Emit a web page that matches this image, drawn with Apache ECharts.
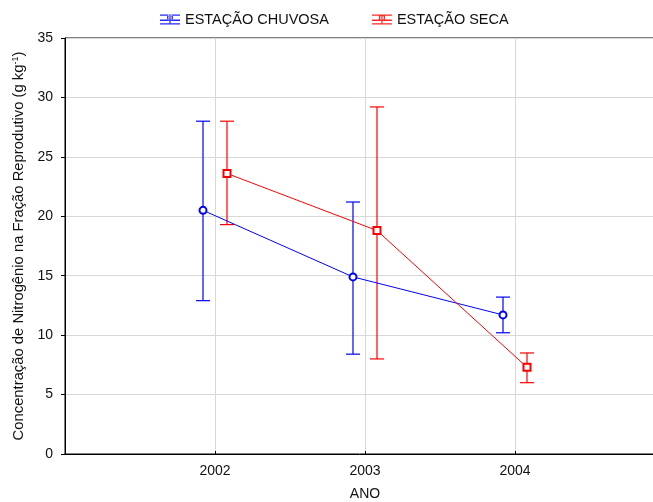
<!DOCTYPE html>
<html>
<head>
<meta charset="utf-8">
<script src="https://cdn.jsdelivr.net/npm/echarts@6/dist/echarts.min.js"></script>
<style>
  html, body { margin: 0; padding: 0; background: #fff; }
  #chart { width: 653px; height: 502px; }
</style>
</head>
<body>
<div id="chart"></div>
<script>
// Nitrogen concentration in the reproductive fraction, by year and season
const years = [2002, 2003, 2004];

const chuvosaMean = [20.5, 14.9, 11.7];
const chuvosaLow  = [12.9, 8.4, 10.2];
const chuvosaHigh = [28.0, 21.2, 13.2];

const secaMean = [23.6, 18.8, 7.3];
const secaLow  = [19.3, 8.0, 6.0];
const secaHigh = [28.0, 29.2, 8.5];

const yTicks = [0, 5, 10, 15, 20, 25, 30, 35];

// small horizontal shift so the two seasons don't overlap at each year
const DODGE = 0.08;
const BLUE = '#0000ff';
const RED = '#ff0000';
const FONT = "'Liberation Sans', Arial, sans-serif";

// legend glyphs: whisker caps, stem, connecting line and the point marker
const ICON_BASE = 'M0,0H20V1.2H0Z M0,5H20V6.4H0Z M0,8.8H20V10H0Z M9.4,0H10.6V10H9.4Z ';
const ICON_CIRCLE = 'path://' + ICON_BASE +
  'M13,3A3,3 0 1,0 7,3A3,3 0 1,0 13,3Z M11.8,3A1.8,1.8 0 1,1 8.2,3A1.8,1.8 0 1,1 11.8,3Z';
const ICON_SQUARE = 'path://' + ICON_BASE +
  'M7,0.5H13V6.5H7Z M8.3,1.8V5.2H11.7V1.8Z';

function points(mean, shift) {
  return years.map((y, i) => [y + shift, mean[i]]);
}
function bars(low, high, shift) {
  return years.map((y, i) => [y + shift, low[i], high[i]]);
}

function errorBarRenderer(color) {
  return function (params, api) {
    const x = api.value(0);
    const lo = api.coord([x, api.value(1)]);
    const hi = api.coord([x, api.value(2)]);
    const half = 7;
    const style = { stroke: color, lineWidth: 1.2 };
    return {
      type: 'group',
      children: [
        { type: 'line', shape: { x1: lo[0], y1: lo[1], x2: hi[0], y2: hi[1] }, style },
        { type: 'line', shape: { x1: hi[0] - half, y1: hi[1], x2: hi[0] + half, y2: hi[1] }, style },
        { type: 'line', shape: { x1: lo[0] - half, y1: lo[1], x2: lo[0] + half, y2: lo[1] }, style }
      ]
    };
  };
}

const chart = echarts.init(document.getElementById('chart'), null, { renderer: 'canvas' });

chart.setOption({
  animation: false,
  textStyle: { fontFamily: FONT },
  legend: {
    top: 7,
    left: 155,
    itemGap: 43,
    itemWidth: 20,
    itemHeight: 11,
    textStyle: { fontFamily: FONT, fontSize: 14.5, color: '#111' },
    data: [
      { name: 'ESTAÇÃO CHUVOSA', icon: ICON_CIRCLE, itemStyle: { color: BLUE, borderWidth: 0, opacity: 0.85 } },
      { name: 'ESTAÇÃO SECA', icon: ICON_SQUARE, itemStyle: { color: RED, borderWidth: 0, opacity: 0.85 } }
    ]
  },
  grid: {
    left: 65,
    top: 38,
    width: 600,
    height: 416,
    outerBoundsMode: 'none',
    containLabel: false,
    show: true,
    borderColor: '#000',
    borderWidth: 1
  },
  xAxis: {
    type: 'value',
    min: 2001,
    max: 2005,
    interval: 1,
    name: 'ANO',
    nameLocation: 'middle',
    nameGap: 33,
    nameTextStyle: { fontFamily: FONT, fontSize: 14, color: '#111' },
    axisLine: { show: true, lineStyle: { color: '#000', width: 1 } },
    axisTick: { show: true, inside: true, length: 3, lineStyle: { color: '#000' } },
    axisLabel: {
      fontFamily: FONT,
      fontSize: 14,
      color: '#111',
      margin: 10,
      formatter: v => (years.indexOf(v) >= 0 ? String(v) : '')
    },
    splitLine: { show: true, lineStyle: { color: '#d8d8d8', width: 1 } }
  },
  yAxis: {
    type: 'value',
    min: 0,
    max: 35,
    interval: 5,
    name: 'Concentração de Nitrogênio na Fração Reprodutivo (g kg{sup|-1})',
    nameLocation: 'middle',
    nameGap: 34,
    nameRotate: 90,
    nameTextStyle: {
      fontFamily: FONT,
      fontSize: 14.8,
      color: '#111',
      rich: {
        sup: { fontSize: 9, verticalAlign: 'top', padding: [0, 0, 8, 0], fontFamily: FONT, color: '#111' }
      }
    },
    axisLine: { show: true, lineStyle: { color: '#000', width: 1 } },
    axisTick: { show: true, inside: false, length: 4, lineStyle: { color: '#000' } },
    axisLabel: {
      fontFamily: FONT,
      fontSize: 14,
      color: '#111',
      margin: 12,
      formatter: v => (yTicks.indexOf(v) >= 0 ? String(v) : '')
    },
    splitLine: { show: true, lineStyle: { color: '#d8d8d8', width: 1 } }
  },
  series: [
    {
      name: 'ESTAÇÃO CHUVOSA',
      type: 'line',
      data: points(chuvosaMean, -DODGE),
      symbol: 'circle',
      symbolSize: 7,
      showAllSymbol: true,
      lineStyle: { color: BLUE, width: 1 },
      itemStyle: { color: '#fff', borderColor: BLUE, borderWidth: 2 },
      z: 3
    },
    {
      name: 'ESTAÇÃO SECA',
      type: 'line',
      data: points(secaMean, DODGE),
      symbol: 'rect',
      symbolSize: 7,
      showAllSymbol: true,
      lineStyle: { color: RED, width: 1 },
      itemStyle: { color: '#fff', borderColor: RED, borderWidth: 2 },
      z: 3
    },
    {
      name: 'chuvosa-erro',
      type: 'custom',
      renderItem: errorBarRenderer(BLUE),
      encode: { x: 0, y: [1, 2] },
      data: bars(chuvosaLow, chuvosaHigh, -DODGE),
      z: 2
    },
    {
      name: 'seca-erro',
      type: 'custom',
      renderItem: errorBarRenderer(RED),
      encode: { x: 0, y: [1, 2] },
      data: bars(secaLow, secaHigh, DODGE),
      z: 2
    }
  ]
});
</script>
</body>
</html>
